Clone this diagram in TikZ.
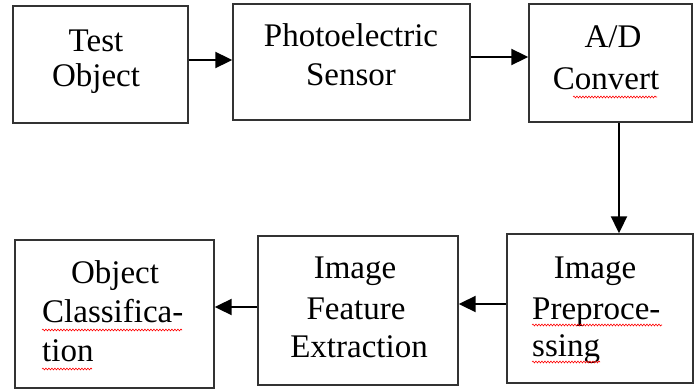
\documentclass[tikz,border=0pt]{standalone}
\usepackage{fontspec}
\setmainfont{Liberation Serif}
\usetikzlibrary{arrows.meta,decorations.pathmorphing}
\begin{document}
\begin{tikzpicture}[x=1pt,y=-1pt,
  box/.style={draw=black!80,line width=1.4pt,rectangle,inner sep=0pt},
  lbl/.style={inner sep=0pt,font=\fontsize{33}{38}\selectfont},
  arr/.style={draw=black,line width=2pt,-{Triangle[length=17pt,width=16pt]}},
  squig/.style={draw=red,line width=0.6pt,decorate,decoration={snake,segment length=3pt,amplitude=0.9pt}}]
\useasboundingbox (0,0) rectangle (696,390);
% boxes
\node[box,minimum width=175pt,minimum height=117pt] (b1) at (100.5,64.5) {};
\node[box,minimum width=237pt,minimum height=116pt] (b2) at (351.5,62) {};
\node[box,minimum width=163pt,minimum height=118pt] (b3) at (610.5,63) {};
\node[box,minimum width=186pt,minimum height=149pt] (b4) at (600,308.5) {};
\node[box,minimum width=200pt,minimum height=149pt] (b5) at (358,310.5) {};
\node[box,minimum width=199pt,minimum height=148pt] (b6) at (114.5,314) {};
% labels
\node[lbl,anchor=base] (t1a) at (96,52) {Test};
\node[lbl,anchor=base] (t1b) at (96,87) {Object};
\node[lbl,anchor=base] (t2a) at (351,47) {Photoelectric};
\node[lbl,anchor=base] (t2b) at (351,86) {Sensor};
\node[lbl,anchor=base] (t3a) at (613,48) {A/D};
\node[lbl,anchor=base] (t3b) at (606,90) {Convert};
\node[lbl,anchor=base] (t4a) at (595,278) {Image};
\node[lbl,anchor=base west] (t4b) at (532,319) {Preproce-};
\node[lbl,anchor=base west] (t4c) at (532,356) {ssing};
\node[lbl,anchor=base] (t5a) at (355,278) {Image};
\node[lbl,anchor=base] (t5b) at (356,319) {Feature};
\node[lbl,anchor=base] (t5c) at (359,357) {Extraction};
\node[lbl,anchor=base] (t6a) at (115,283) {Object};
\node[lbl,anchor=base west] (t6b) at (42,322) {Classifica-};
\node[lbl,anchor=base west] (t6c) at (42,361) {tion};
% spell-check squiggles
\draw[squig] (573,97) -- (657,97);
\draw[squig] (532,325) -- (662,325);
\draw[squig] (532,362) -- (600,362);
\draw[squig] (42,330) -- (182,330);
\draw[squig] (42,369) -- (92,369);
% arrows
\draw[arr] ([yshift=4.5pt]b1.east) -- ([yshift=4.5pt]b1.east -| b2.west);
\draw[arr] ([yshift=5pt]b2.east) -- ([yshift=5pt]b2.east -| b3.west);
\draw[arr] ([xshift=8.5pt]b3.south) -- ([xshift=8.5pt]b3.south |- b4.north);
\draw[arr] ([yshift=4.5pt]b4.west) -- ([yshift=4.5pt]b4.west -| b5.east);
\draw[arr] ([yshift=3.5pt]b5.west) -- ([yshift=3.5pt]b5.west -| b6.east);
\end{tikzpicture}
\end{document}
